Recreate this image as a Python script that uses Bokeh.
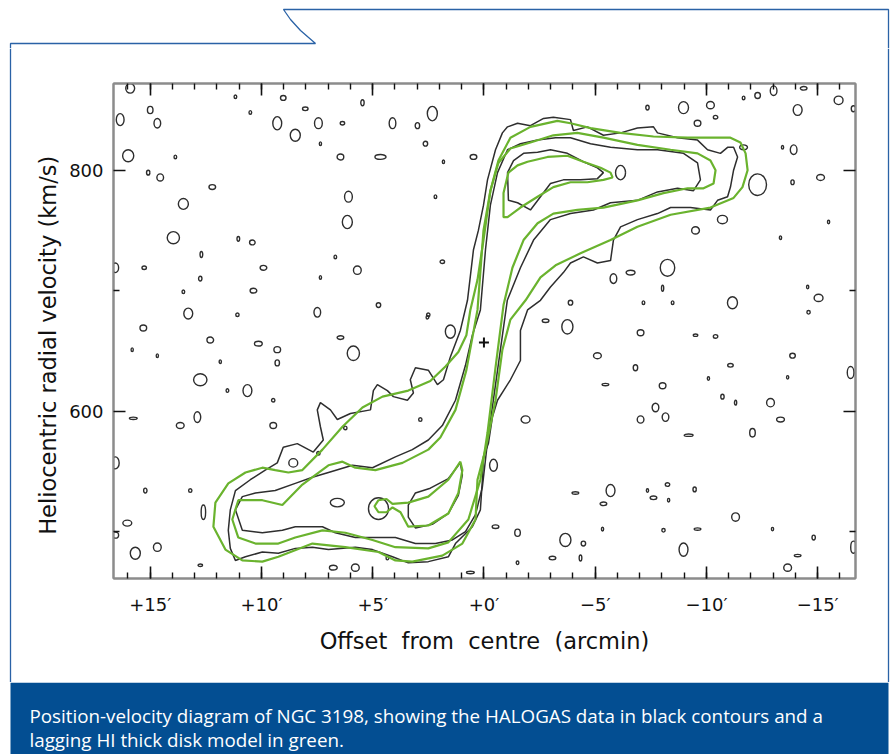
from bokeh.plotting import figure
from bokeh.layouts import column, row
from bokeh.models import Range1d, LinearAxis, FixedTicker
from bokeh.core.properties import value
from bokeh.embed import file_html
from bokeh.resources import INLINE

# ---------------- data (offset in arcmin, velocity in km/s) ----------------
x_major = [-15, -10, -5, 0, 5, 10, 15]
x_minor = list(range(-16, 17))
x_labels = {15: "+15\u2032", 10: "+10\u2032", 5: "+5\u2032", 0: "+0\u2032",
            -5: "\u22125\u2032", -10: "\u221210\u2032", -15: "\u221215\u2032"}
v_major = [600, 800]
v_minor = [500, 700]

# model (green) contours
g1_x = [0.61,0.29,0.02,-0.29,-0.65,-1.19,-2.09,-3.30,-3.89,-4.79,-6.14,-7.62,-9.15,-10.50,-11.08,
        -11.53,-11.76,-11.85,-11.62,-11.22,-10.18,-8.39,-6.90,-5.69,-4.34,-3.22,-2.54,-1.87,-1.19,-0.83,
        -0.52,-0.07,0.29,0.38,0.97,1.87,3.22,3.98,4.74,6.23,7.71,9.24,9.96,10.86,11.62,
        12.16,12.07,11.49,10.72,9.96,9.38,8.79,8.16,7.26,6.36,5.46,4.56,3.40,2.41,1.73,1.15,0.79]
g1_v = [684,709,742,783,808,827,836,841,839,835,831,828,827,827,827,
        823,814,800,786,777,769,763,753,742,731,721,711,692,676,651,
        609,568,543,510,490,480,475,476,483,487,490,479,475,476,485,
        504,524,540,549,553,551,549,551,568,587,603,612,617,625,637,649,663]
g2_x = [0.29,0.02,-0.29,-0.65,-1.19,-2.09,-3.12,-4.20,-5.37,-6.90,-8.39,-9.60,-10.18,-10.41,-10.32,
        -9.87,-9.15,-8.07,-6.90,-5.37,-4.20,-3.12,-2.41,-1.78,-1.28,-0.88,-0.52,-0.16,0.16,0.70,
        1.60,2.50,3.98,5.01,6.23,7.26,8.48,9.24,10.27,11.04,11.31,11.04,9.96,9.06,8.16,
        6.99,6.36,5.78,4.88,3.66,2.50,1.96,1.28,0.79]
g2_v = [684,750,783,806,818,823,829,831,827,821,817,814,808,800,789,
        785,785,781,775,769,767,764,756,742,719,688,636,582,543,510,
        491,486,487,493,499,501,495,490,490,495,510,526,526,522,539,
        555,558,553,551,557,568,578,601,634]
g3a_x = [-0.88,-0.88,-1.10,-1.51,-1.96,-2.86,-3.75,-4.47,-5.24,-5.69,-5.78,-5.37,-4.65,-3.89,-3.12,-2.41,-1.64,-1.06]
g3a_v = [761,781,798,804,807,811,812,807,802,798,794,792,790,790,786,778,769,761]
g3b_x = [1.06,1.60,2.50,3.40,4.11,4.38,4.74,4.92,4.74,4.38,4.11,3.75,3.40,2.50,1.60,1.15,0.97]
g3b_v = [558,543,529,524,523,527,526,521,516,516,520,516,504,505,515,532,551]

# data (black) contours
b1_x = [0.74,0.47,0.25,0.02,-0.16,-0.52,-0.83,-1.06,-1.51,-2.09,
        -2.68,-3.12,-3.89,-4.02,-4.65,-5.37,-6.14,-6.90,-7.62,-7.80,
        -8.70,-9.60,-10.05,-10.63,-10.95,-11.22,-11.40,-11.22,-11.08,-10.95,
        -10.50,-10.18,-9.28,-8.39,-7.80,-6.90,-6.14,-5.82,-5.69,-5.10,
        -4.47,-3.89,-3.57,-2.99,-2.54,-1.96,-1.64,-1.64,-1.19,-0.61,
        -0.38,-0.20,0.02,0.07,0.16,0.52,1.28,1.60,2.50,3.40,
        4.11,5.01,5.78,6.99,7.71,8.48,9.24,9.96,10.72,11.17,
        11.40,11.49,11.40,11.17,10.50,9.83,9.29,9.02,8.39,7.67,
        7.22,7.35,7.49,7.35,6.90,6.59,6.00,5.10,4.97,4.79,
        4.34,4.07,3.44,3.17,3.31,3.08,2.50,2.09,1.82,1.51,1.06]
b1_v = [692,734,750,771,792,817,831,836,839,837,
        843,844,842,833,836,829,831,835,836,831,
        827,825,817,814,819,819,811,800,786,778,
        775,767,769,769,764,759,753,742,725,723,
        728,723,715,703,692,684,667,642,626,609,
        595,573,562,543,518,504,490,479,475,474,
        479,485,487,485,487,486,482,483,479,476,
        486,501,518,534,543,551,557,570,573,566,
        576,587,601,607,601,593,598,601,617,622,
        617,612,609,615,626,636,634,622,626,645,667]
b2_x = [0.16,-0.07,-0.29,-0.61,-1.06,-1.64,-2.41,-3.22,-3.89,-4.79,
        -5.69,-6.90,-7.80,-8.97,-9.60,-9.73,-9.42,-8.70,-7.80,-6.90,
        -5.69,-4.92,-3.89,-2.99,-2.23,-1.64,-1.05,-0.80,-0.55,-0.30,
        -0.12,0.07,0.38,0.83,1.42,2.18,3.08,3.98,4.88,5.78,
        6.68,7.26,8.48,9.06,9.96,10.86,11.17,10.86,10.27,9.38,
        8.48,7.71,6.99,5.91,5.01,3.98,3.22,2.50,1.87,1.28,0.83,0.52]
b2_v = [684,734,771,798,817,822,825,827,827,822,
        819,817,817,814,806,792,783,785,782,775,
        773,767,764,759,742,719,692,659,626,593,
        568,537,514,500,493,490,490,495,495,495,
        499,504,504,501,499,501,518,529,532,534,
        540,545,549,555,553,562,568,576,588,609,638,663]
b3a_x = [-1.10,-1.06,-1.33,-1.78,-2.41,-2.99,-3.75,-4.47,-5.10,-5.37,-5.10,-4.34,-3.57,-2.99,-2.54,-2.09,-1.51]
b3a_v = [775,798,808,814,815,817,814,807,802,798,793,792,792,789,778,767,773]
b3b_x = [1.06,1.60,2.41,3.08,3.40,3.40,3.08,2.32,1.60,1.15,0.97]
b3b_v = [557,544,536,532,522,512,503,506,515,530,547]

# small isolated (noise) contours: centre, width (arcmin), height (km/s)
blob_x = [15.90,15.00,14.68,16.35,15.99,14.55,15.09,13.87,12.21,13.51,13.96,11.04,10.41,12.70,15.27,16.57,12.75,10.36,9.91,13.29,
          11.17,9.02,10.50,9.29,8.48,7.44,8.03,6.36,5.46,7.35,6.45,4.65,4.11,2.99,2.32,2.63,1.82,6.09,6.14,2.18,
          6.68,5.69,7.35,1.87,13.51,4.74,7.49,11.08,2.50,-7.35,-8.97,-10.18,-10.41,-9.60,-11.67,-12.30,-13.02,-14.37,-14.10,-15.94,
          -16.61,-13.92,-13.42,-11.67,-12.30,-13.87,-15.13,-10.72,-9.51,-15.49,-13.33,-8.25,-6.59,-5.82,-8.03,-7.17,-8.48,-3.89,-11.17,-15.04,
          -14.55,-14.59,0.47,-6.14,-2.77,-3.75,1.51,-7.04,-9.51,-10.41,-5.10,-6.81,-11.08,-13.87,-13.65,-10.09,-5.46,-8.03,-10.72,-11.31,
          -12.88,-7.71,-7.04,-8.16,-1.87,-13.33,-9.20,-12.07,-16.48,-0.43,-4.11,-5.69,-5.37,-7.35,-8.25,-7.62,-8.30,-9.47,-11.31,-0.52,
          -1.51,-3.66,-4.47,-5.33,-8.07,-9.60,-12.97,-14.82,-8.97,-4.34,-3.08,-1.51,-14.10,-13.65,-16.61,0.61,15.31,12.30,10.14,9.29,
          9.29,15.81,14.68,11.85,6.45,5.87,12.75,10.63,11.53,9.47,12.88,13.65,15.76,9.47,2.86,6.23,16.57,15.22,13.20,12.61,
          16.03,16.57,15.67,14.68,12.75,6.77,5.78,4.34,8.57,7.44,2.54,4.74,6.59]
blob_v = [868,850,839,842,812,794,798,811,786,772,744,743,740,730,719,719,710,700,719,681,
          861,860,848,839,829,839,851,839,856,822,811,811,839,837,847,822,807,778,757,778,
          728,717,711,724,699,688,682,680,680,852,852,854,844,839,860,862,866,868,850,858,
          851,817,819,819,788,790,794,759,750,757,744,719,715,710,702,690,690,690,690,694,
          703,682,811,798,675,670,666,665,663,662,646,636,638,646,628,627,622,621,612,607,
          607,603,593,595,593,593,580,582,632,555,532,534,523,534,539,528,526,535,512,504,
          499,493,490,502,501,502,502,495,485,478,478,474,480,470,487,466,669,659,656,651,
          640,651,646,641,661,648,626,617,617,609,595,588,594,588,593,586,557,534,534,516,
          507,497,482,487,472,470,470,478,557,565,678,519,524]
blob_w = [.4,.25,.3,.35,.5,.3,.15,.12,.3,.45,.55,.12,.25,.12,.2,.3,.15,.3,.3,.4,
          .12,.25,.12,.4,.45,.35,.25,.2,.15,.1,.3,.5,.3,.2,.45,.2,.1,.35,.45,.12,
          .12,.35,.1,.2,.12,.2,.3,.15,.15,.15,.45,.35,.2,.3,.12,.25,.3,.3,.4,.4,
          .2,.3,.1,.35,.8,.15,.35,.45,.35,.1,.1,.65,.4,.3,.1,.12,.12,.2,.45,.4,
          .1,.15,.3,.45,.3,.5,.45,.3,.2,.2,.35,.2,.25,.25,.1,.1,.3,.3,.15,.1,
          .35,.3,.3,.3,.4,.35,.4,.25,.3,.35,.3,.4,.3,.1,.2,.3,.1,.15,.35,.3,
          .25,.5,.2,.1,.15,.3,.1,.15,.4,.12,.3,.12,.3,.35,.25,.35,.3,.3,.35,.3,
          .2,.1,.1,.1,.3,.55,.6,.4,.12,.15,.3,.35,.35,.3,.15,.15,.35,.15,.15,.2,
          .4,.3,.45,.35,.2,.35,.35,.12,.4,.15,.12,.9,.63]
blob_h = [8,6,8,10,10,6,4,3,4,9,10,4,4,5,3,8,4,4,4,9,
          3,4,3,11,10,9,3,3,5,3,5,4,9,5,12,4,3,9,11,3,
          3,7,3,3,3,4,8,3,3,4,10,6,3,5,3,5,8,3,9,7,
          5,8,3,4,18,4,5,7,6,3,3,14,4,8,5,3,3,4,10,6,
          3,3,4,12,3,12,11,5,2,3,5,5,3,4,3,3,2,5,4,4,
          7,7,6,7,6,4,2,7,10,10,2,10,3,3,3,3,3,4,7,3,
          6,11,4,3,3,2,3,4,11,5,3,3,2,6,10,2,5,5,4,5,
          5,3,3,3,3,12,10,10,3,3,9,5,2,5,3,3,10,4,3,12,
          5,5,10,7,2,4,6,3,7,3,3,18,7]

centre_x = [0.0]
centre_v = [657]

caption_lines = ["Position-velocity diagram of NGC 3198, showing the HALOGAS data in black contours and a",
                 "lagging HI thick disk model in green."]

# ---------------- styling / layout constants ----------------
BLACK = "#2e2e2e"
GREEN = "#6ab32e"
BLUE_LINE = "#2a62a6"
BLUE_BAR = "#034e92"
FRAME_GRAY = "#8c8c8c"

TOTAL_W = 895
TOP_H = 48
MID_H = 634
CAP_H = 72
LEFT_W = 20
RIGHT_W = 15
CHART_W = TOTAL_W - LEFT_W - RIGHT_W


def no_align(f):
    if "frame_align" in f.properties():
        f.frame_align = False
    return f


def strip(w, h):
    f = figure(width=w, height=h, output_backend="svg", toolbar_location=None,
               x_range=Range1d(0, w), y_range=Range1d(h, 0),
               x_axis_location=None, y_axis_location=None,
               min_border=0, min_border_left=0, min_border_right=0,
               min_border_top=0, min_border_bottom=0,
               outline_line_color=None, background_fill_color="white",
               border_fill_color="white")
    f.grid.visible = False
    return no_align(f)


# top strip with the folder tab
top = strip(TOTAL_W, TOP_H)
top.line(x=[10, 10, 315, 300, 290, 283, 888, 888],
         y=[TOP_H, 43, 43, 30, 19, 9, 9, TOP_H],
         line_color=BLUE_LINE, line_width=1.3)

left = strip(LEFT_W, MID_H)
left.line(x=[10, 10], y=[0, MID_H], line_color=BLUE_LINE, line_width=1.3)
right = strip(RIGHT_W, MID_H)
right.line(x=[8, 8], y=[0, MID_H], line_color=BLUE_LINE, line_width=1.3)

cap = strip(TOTAL_W, CAP_H)
cap.quad(left=[10], right=[888], top=[0], bottom=[CAP_H],
         fill_color=BLUE_BAR, line_color=None)
cap.text(x=[29, 29], y=[33, 57], text=caption_lines,
         text_font=value("Open Sans"), text_font_size=value("18.8px"),
         text_color="white", text_align="left", text_baseline="alphabetic")

# ---------------- chart ----------------
p = figure(width=CHART_W, height=MID_H, output_backend="svg", toolbar_location=None,
           x_range=Range1d(16.65, -16.7), y_range=Range1d(461, 872),
           x_axis_location=None, y_axis_location=None,
           min_border_left=93, min_border_right=25, min_border_top=35,
           min_border_bottom=104, background_fill_color="white",
           border_fill_color="white")
no_align(p)
p.grid.visible = False
p.outline_line_color = FRAME_GRAY
p.outline_line_width = 2

ax_b = LinearAxis(ticker=FixedTicker(ticks=x_major, minor_ticks=x_minor))
ax_t = LinearAxis(ticker=FixedTicker(ticks=x_major, minor_ticks=x_minor))
ax_l = LinearAxis(ticker=FixedTicker(ticks=v_major, minor_ticks=v_minor))
ax_r = LinearAxis(ticker=FixedTicker(ticks=v_major, minor_ticks=v_minor))
p.add_layout(ax_b, "below")
p.add_layout(ax_l, "left")
p.add_layout(ax_t, "above")
p.add_layout(ax_r, "right")

for ax in [ax_b, ax_t, ax_l, ax_r]:
    ax.major_tick_in = 12
    ax.major_tick_out = 0
    ax.minor_tick_in = 6
    ax.minor_tick_out = 0
    ax.major_tick_line_color = "#111111"
    ax.major_tick_line_width = 1.6
    ax.minor_tick_line_color = "#111111"
    ax.minor_tick_line_width = 1.4
    ax.axis_line_color = FRAME_GRAY
    ax.axis_line_width = 2
    ax.major_label_text_font = "DejaVu Sans"
    ax.major_label_text_font_size = "18px"
    ax.major_label_text_color = "#111111"
    ax.axis_label_text_font = "DejaVu Sans"
    ax.axis_label_text_font_size = "22.5px"
    ax.axis_label_text_font_style = "normal"
    ax.axis_label_text_color = "#111111"

ax_t.major_label_overrides = {t: "" for t in x_major}
ax_r.major_label_overrides = {t: "" for t in v_major}
ax_t.major_label_standoff = 0
ax_r.major_label_standoff = 0

ax_b.major_label_overrides = x_labels
ax_b.major_label_standoff = 15
ax_b.axis_label = "Offset\u00a0 from\u00a0 centre\u00a0 (arcmin)"
ax_b.axis_label_standoff = 10

ax_l.major_label_standoff = 10
ax_l.axis_label = "Heliocentric radial velocity (km/s)" + "\u00a0" * 4
ax_l.axis_label_standoff = 5

p.ellipse(x=blob_x, y=blob_v, width=blob_w, height=blob_h,
          fill_color=None, line_color=BLACK, line_width=1.4)
p.patches(xs=[b1_x, b2_x, b3a_x, b3b_x], ys=[b1_v, b2_v, b3a_v, b3b_v],
          fill_color=None, line_color=BLACK, line_width=1.5)
p.patches(xs=[g1_x, g2_x, g3a_x, g3b_x], ys=[g1_v, g2_v, g3a_v, g3b_v],
          fill_color=None, line_color=GREEN, line_width=2.2)
p.scatter(x=centre_x, y=centre_v, marker="cross", size=10,
          line_color="#111111", line_width=2)

mid = row(left, p, right)
layout = column(top, mid, cap)

open("out.html", "w").write(file_html(layout, INLINE))
